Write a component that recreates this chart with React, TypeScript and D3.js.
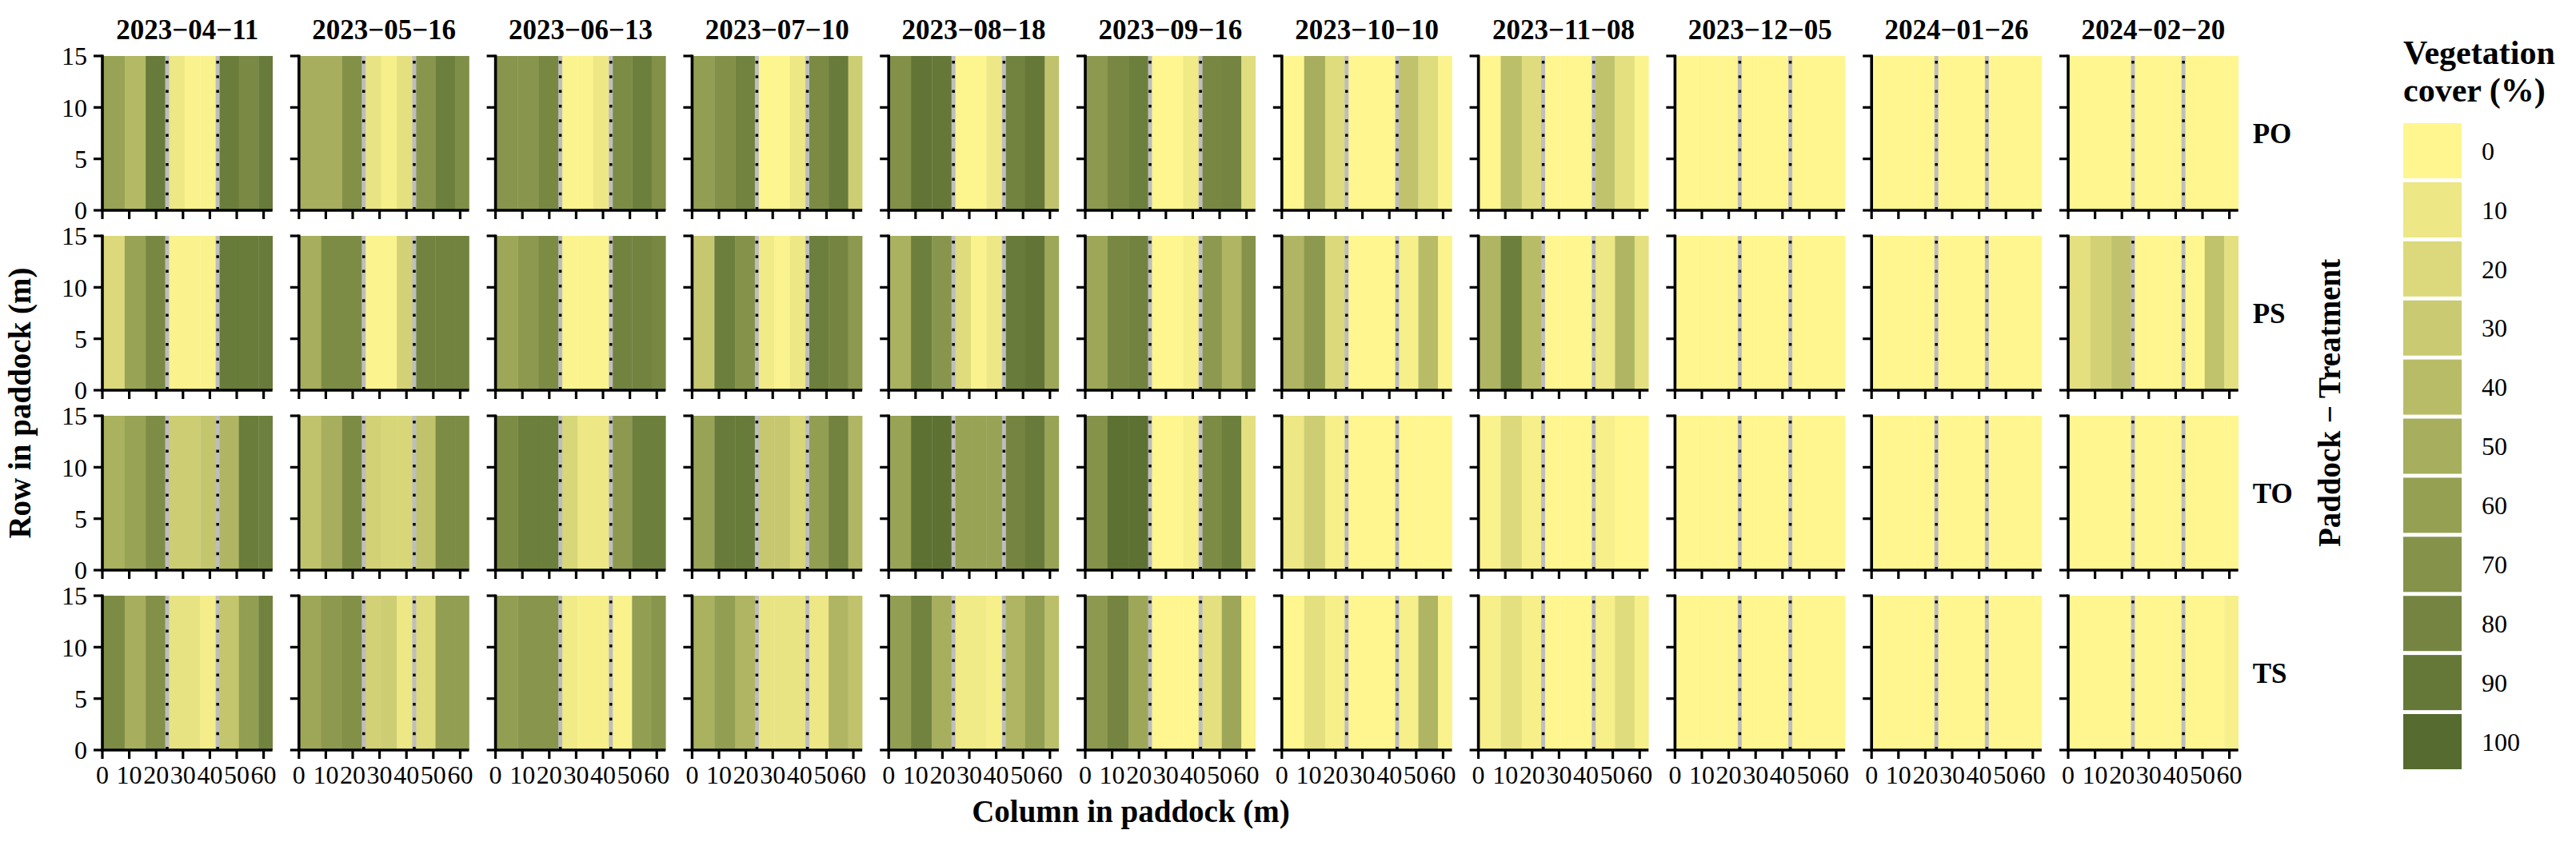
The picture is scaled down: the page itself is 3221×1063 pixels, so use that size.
import React from "react";
import * as d3 from "d3";

const dates = ["2023-04-11","2023-05-16","2023-06-13","2023-07-10","2023-08-18","2023-09-16","2023-10-10","2023-11-08","2023-12-05","2024-01-26","2024-02-20"];
const treatments = ["PO","PS","TO","TS"];
// column edges (m) of the measured strips across the paddock
const columnEdges = [0, 8.3, 16.1, 24.1, 30.6, 36.4, 42.9, 50.8, 58.1, 63.3];
const pathLines = [24.1, 42.9];
const xTicks = [0,10,20,30,40,50,60];
const yTicks = [0,5,10,15];
const legendBreaks = [0,10,20,30,40,50,60,70,80,90,100];

// vegetation cover (%) per strip, one row per date
const coverPO = [
  [58,42,88,10,3,3,86,77,88],
  [50,50,72,12,5,15,68,85,73],
  [68,68,78,2,2,10,75,85,72],
  [62,72,82,1,1,10,76,88,28],
  [72,92,90,1,1,10,82,90,35],
  [65,78,85,0,0,8,78,80,17],
  [0,50,18,0,0,0,35,18,2],
  [0,38,18,0,0,0,35,15,2],
  [0,0,0,0,0,0,0,0,0],
  [0,0,0,0,0,0,0,0,0],
  [0,0,0,0,0,0,0,0,0],
];
const coverPS = [
  [20,58,78,3,3,3,88,87,88],
  [50,75,75,2,2,25,82,82,82],
  [55,65,75,2,2,2,82,82,78],
  [32,85,70,8,2,10,85,80,65],
  [48,85,68,18,3,10,88,92,55],
  [55,78,82,0,0,5,65,45,70],
  [45,65,20,0,0,0,5,40,2],
  [45,85,40,0,0,0,10,45,15],
  [0,0,0,0,0,0,0,0,0],
  [0,0,0,0,0,0,0,0,0],
  [15,25,35,0,0,0,0,35,15],
];
const coverTO = [
  [48,58,74,28,28,33,45,86,84],
  [35,50,75,25,22,22,35,75,75],
  [75,85,85,22,10,10,65,85,85],
  [58,88,88,32,32,22,62,82,45],
  [58,95,95,58,58,58,80,88,58],
  [70,95,95,0,0,5,75,85,15],
  [10,28,5,0,0,0,0,0,0],
  [3,20,5,0,0,0,5,0,0],
  [0,0,0,0,0,0,0,0,0],
  [0,0,0,0,0,0,0,0,0],
  [0,0,0,0,0,0,0,0,0],
];
const coverTS = [
  [75,50,72,13,13,6,33,62,82],
  [55,65,72,25,28,10,18,62,62],
  [62,68,68,8,5,5,3,62,68],
  [48,62,45,12,12,12,10,45,35],
  [62,82,50,8,8,5,45,62,38],
  [65,80,55,0,0,0,15,55,2],
  [0,15,5,0,0,0,5,45,3],
  [5,15,5,0,0,0,5,18,5],
  [0,0,0,0,0,0,0,0,0],
  [0,0,0,0,0,0,0,0,0],
  [0,0,0,0,0,0,0,0,5],
];
const coverByTreatment = [coverPO, coverPS, coverTO, coverTS];

const W = 3221, H = 1063;
const FONT = "Liberation Serif, serif";

const panelLeft0 = 128;
const panelStep = 245.8;
const panelW = 212.7;
const rowTop0 = 70;
const rowStep = 225;
const panelH = 193;

const color = d3.scaleLinear<string>().domain([0, 100]).range(["#FFF68F", "#556B2F"]).interpolate(d3.interpolateLab);

function Panel({ ci, ri }: { ci: number; ri: number }) {
  const x0 = panelLeft0 + ci * panelStep;
  const y0 = rowTop0 + ri * rowStep;
  const x = d3.scaleLinear().domain([0, 63.3]).range([x0, x0 + panelW]);
  const y = d3.scaleLinear().domain([0, 15]).range([y0 + panelH, y0]);
  const vals = coverByTreatment[ri][ci];
  const bottomRow = ri === treatments.length - 1;
  const firstCol = ci === 0;
  return (
    <g>
      {vals.map((v, k) => (
        <rect key={k} x={x(columnEdges[k])} y={y(15)} width={x(columnEdges[k + 1]) - x(columnEdges[k]) + 0.3}
          height={y(0) - y(15)} fill={color(v)} />
      ))}
      {pathLines.map((p, k) => (
        <g key={"l" + k}>
          <line x1={x(p)} x2={x(p)} y1={y(15)} y2={y(0)} stroke="#BEBEBE" strokeWidth={5} />
          <line x1={x(p)} x2={x(p)} y1={y(15)} y2={y(0)} stroke="#000" strokeWidth={3.5} strokeDasharray="3.5 14.8" strokeDashoffset={-6} />
        </g>
      ))}
      <line x1={x(0)} x2={x(0)} y1={y(15) - 1.5} y2={y(0) + 1.5} stroke="#000" strokeWidth={3.6} />
      <line x1={x(0) - 1.5} x2={x(63.3)} y1={y(0)} y2={y(0)} stroke="#000" strokeWidth={3.6} />
      {yTicks.map(t => (
        <line key={"yt" + t} x1={x(0) - 11} x2={x(0)} y1={y(t)} y2={y(t)} stroke="#000" strokeWidth={3.2} />
      ))}
      {xTicks.map(t => (
        <line key={"xt" + t} x1={x(t)} x2={x(t)} y1={y(0)} y2={y(0) + 11} stroke="#000" strokeWidth={3.2} />
      ))}
      {firstCol && yTicks.map(t => (
        <text key={"yl" + t} x={x(0) - 19} y={y(t)} dy="0.35em" textAnchor="end" fontSize={32} fontFamily={FONT} fill="#000">{t}</text>
      ))}
      {bottomRow && xTicks.map(t => (
        <text key={"xl" + t} x={x(t)} y={980} textAnchor="middle" fontSize={32} fontFamily={FONT} fill="#000">{t}</text>
      ))}
      {ri === 0 && (
        <text x={(x(0) + x(63.3)) / 2} y={49} textAnchor="middle" fontSize={35} fontWeight="bold" fontFamily={FONT} fill="#000">
          {dates[ci].replace(/-/g, "\u2212")}
        </text>
      )}
      {ci === dates.length - 1 && (
        <text x={x(63.3) + 18} y={(y(0) + y(15)) / 2} dy="0.35em" textAnchor="start" fontSize={35} fontWeight="bold" fontFamily={FONT} fill="#000">
          {treatments[ri]}
        </text>
      )}
    </g>
  );
}

function Legend() {
  const kx = 3005, ky0 = 154, kStep = 73.9, kW = 73, kH = 69;
  return (
    <g>
      <text x={kx} y={80} fontSize={42} fontWeight="bold" fontFamily={FONT} fill="#000">Vegetation</text>
      <text x={kx} y={127} fontSize={42} fontWeight="bold" fontFamily={FONT} fill="#000">cover (%)</text>
      {legendBreaks.map((b, i) => (
        <g key={b}>
          <rect x={kx} y={ky0 + i * kStep} width={kW} height={kH} fill={color(b)} />
          <text x={3103} y={ky0 + i * kStep + kH / 2} dy="0.35em" fontSize={32} fontFamily={FONT} fill="#000">{b}</text>
        </g>
      ))}
    </g>
  );
}

export default function App() {
  const panelsCenterY = (rowTop0 + rowTop0 + 3 * rowStep + panelH) / 2;
  return (
    <svg width={W} height={H} style={{ position: "absolute", left: 0, top: 0, background: "#fff" }}>
      <rect x={0} y={0} width={W} height={H} fill="#fff" />
      {treatments.map((t, ri) => dates.map((d, ci) => <Panel key={t + d} ci={ci} ri={ri} />))}
      <text x={1414} y={1028} textAnchor="middle" fontSize={39} fontWeight="bold" fontFamily={FONT} fill="#000">Column in paddock (m)</text>
      <text transform={`translate(38,${panelsCenterY}) rotate(-90)`} textAnchor="middle" fontSize={39} fontWeight="bold" fontFamily={FONT} fill="#000">Row in paddock (m)</text>
      <text transform={`translate(2926,${panelsCenterY}) rotate(-90)`} textAnchor="middle" fontSize={39} fontWeight="bold" fontFamily={FONT} fill="#000">Paddock {"\u2212"} Treatment</text>
      <Legend />
    </svg>
  );
}
